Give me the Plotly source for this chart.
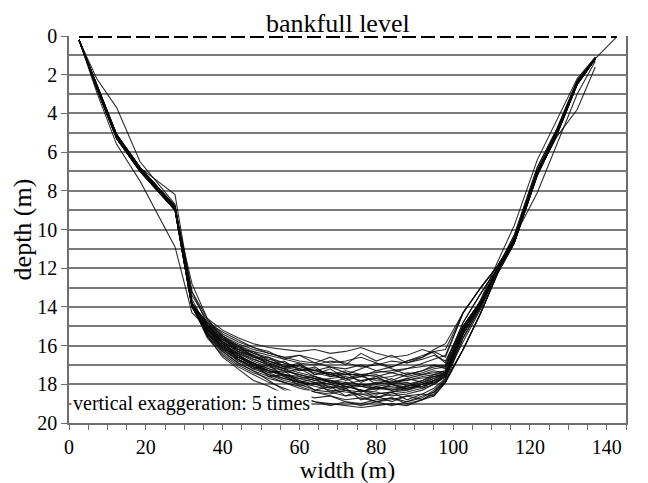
import plotly.graph_objects as go

# Cross-section stations (m across the channel)
station_x = [2.6, 7.2, 12.4, 18.5, 27.6, 32.0, 36, 40, 44, 48, 52, 56, 60, 64, 68, 72,
             76, 80, 84, 88, 92, 95, 98, 102.6, 107.2, 111.5, 115.9, 121.9, 127.0,
             132.3, 137.0, 142.6]

# Left-bank depths (stations 2.6 .. 32)
left_main = [0.2, 2.6, 5.2, 6.9, 8.9, 13.9]
left_a = [0.2, 2.5, 5.1, 6.8, 8.8, 13.8]
left_b = [0.2, 2.7, 5.3, 7.0, 9.0, 14.0]
left_bulge = [0.2, 2.2, 3.7, 6.5, 8.7, 13.6]
left_kink = [0.2, 2.6, 5.1, 6.8, 8.2, 13.4]
left_deep = [0.2, 2.9, 5.6, 7.5, 10.9, 14.3]
left_toe = [0.2, 2.6, 5.2, 6.9, 9.0, 12.8]
left_g = [0.2, 2.6, 5.2, 6.9, 8.9, 13.2]

# Bed depths (stations 36 .. 98)
bed_01 = [15.1, 15.9, 16.4, 16.8, 17.1, 17.3, 17.5, 17.7, 17.8, 17.9, 18.0, 18.0, 17.9, 17.8, 17.7, 17.6, 17.5]
bed_02 = [15.3, 16.1, 16.6, 17.0, 17.3, 17.6, 17.9, 18.1, 18.3, 18.4, 18.5, 18.5, 18.4, 18.3, 18.1, 17.9, 17.6]
bed_03 = [14.9, 15.7, 16.2, 16.5, 16.8, 17.0, 17.2, 17.3, 17.4, 17.5, 17.5, 17.4, 17.3, 17.2, 17.1, 17.0, 17.2]
bed_04 = [15.0, 15.8, 16.3, 16.6, 16.9, 17.2, 17.4, 17.6, 17.8, 18.0, 18.1, 18.2, 18.2, 18.1, 18.0, 17.8, 17.5]
bed_05 = [15.4, 16.3, 16.9, 17.3, 17.8, 18.3, 18.7, 18.9, 19.0, 19.1, 19.2, 19.1, 19.0, 19.1, 18.8, 18.5, 17.8]
bed_06 = [14.6, 15.2, 15.6, 15.9, 16.1, 16.2, 16.3, 16.2, 16.4, 16.3, 16.1, 16.4, 16.6, 16.5, 16.2, 16.4, 16.9]
bed_07 = [15.2, 16.0, 16.5, 16.9, 17.2, 17.4, 17.2, 17.6, 17.9, 17.7, 18.1, 18.3, 18.0, 17.9, 18.2, 17.8, 17.5]
bed_08 = [15.0, 15.7, 16.1, 16.4, 16.6, 16.9, 17.1, 17.3, 17.1, 17.4, 17.6, 17.3, 17.1, 16.8, 16.6, 16.2, 15.9]
bed_09 = [15.5, 16.4, 17.0, 17.4, 17.7, 17.9, 18.2, 18.4, 18.6, 18.8, 18.7, 18.9, 18.8, 18.6, 18.5, 18.2, 17.7]
bed_10 = [15.1, 15.8, 16.2, 16.6, 16.8, 17.1, 17.3, 17.2, 17.5, 17.7, 17.6, 17.8, 17.9, 17.7, 17.5, 17.4, 17.3]
bed_11 = [14.8, 15.5, 16.0, 16.3, 16.5, 16.7, 16.9, 17.0, 16.8, 16.9, 17.1, 17.0, 16.8, 16.9, 16.7, 16.5, 16.8]
bed_12 = [15.3, 16.2, 16.8, 17.2, 17.5, 17.7, 17.9, 18.0, 18.2, 18.1, 18.3, 18.4, 18.6, 18.5, 18.3, 18.0, 17.6]
bed_13 = [15.2, 15.9, 16.5, 16.9, 17.3, 17.5, 17.7, 17.9, 18.0, 18.2, 18.1, 17.9, 18.0, 18.2, 18.0, 17.7, 17.4]
bed_14 = [14.7, 15.4, 15.8, 16.1, 16.4, 16.6, 16.8, 16.9, 17.1, 17.2, 17.0, 17.3, 17.4, 17.2, 16.9, 16.7, 16.5]
bed_15 = [15.6, 16.5, 17.1, 17.5, 17.9, 18.2, 18.5, 18.7, 18.6, 18.9, 19.0, 18.8, 18.7, 18.9, 18.7, 18.3, 17.8]
bed_16 = [15.0, 15.9, 16.4, 16.7, 17.0, 17.2, 17.6, 17.8, 17.7, 17.6, 17.8, 17.7, 17.6, 17.4, 17.5, 17.3, 17.4]
bed_17 = [15.2, 16.0, 16.6, 17.0, 17.3, 17.5, 17.8, 18.0, 18.1, 18.3, 18.4, 18.2, 18.3, 18.1, 17.9, 17.7, 17.5]
bed_18 = [14.6, 15.6, 16.1, 16.5, 16.9, 17.2, 17.0, 17.3, 17.5, 17.3, 17.5, 17.6, 17.4, 17.6, 17.4, 17.2, 17.1]
bed_19 = [15.4, 16.2, 16.7, 17.1, 17.5, 17.8, 18.0, 18.3, 18.4, 18.6, 18.5, 18.7, 18.5, 18.4, 18.2, 18.0, 17.6]
bed_20 = [14.8, 15.5, 15.9, 16.2, 16.4, 16.6, 16.5, 16.7, 16.9, 16.8, 16.6, 16.9, 17.1, 16.8, 16.5, 16.3, 16.2]
bed_21 = [15.1, 15.9, 16.5, 17.0, 17.4, 17.7, 17.9, 18.0, 17.8, 18.1, 18.3, 18.5, 18.4, 18.2, 18.1, 17.9, 17.6]
bed_22 = [15.3, 16.1, 16.7, 17.1, 17.3, 17.5, 17.7, 17.6, 17.9, 18.1, 18.0, 18.2, 18.1, 18.0, 17.8, 17.6, 17.4]
bed_23 = [15.0, 15.8, 16.3, 16.7, 17.0, 17.3, 17.5, 17.7, 17.9, 18.0, 17.8, 17.7, 17.9, 17.8, 17.6, 17.5, 17.4]
bed_24 = [15.5, 16.3, 16.9, 17.3, 17.6, 17.9, 18.1, 18.4, 18.5, 18.3, 18.6, 18.9, 19.1, 18.9, 18.6, 18.4, 17.9]
bed_25 = [14.9, 15.6, 16.0, 16.4, 16.7, 16.9, 17.2, 17.4, 17.6, 17.5, 17.2, 16.9, 17.2, 17.5, 17.3, 17.1, 17.0]
bed_26 = [15.2, 16.0, 16.6, 16.9, 17.2, 17.5, 17.6, 17.8, 18.0, 18.2, 18.0, 18.1, 18.3, 18.2, 18.0, 17.8, 17.5]
bed_27 = [15.0, 15.6, 16.3, 16.5, 17.0, 16.8, 17.3, 17.1, 17.6, 17.4, 17.9, 17.6, 18.0, 17.7, 17.9, 17.6, 17.5]
bed_28 = [15.4, 16.0, 16.8, 16.9, 17.6, 17.5, 18.1, 17.9, 18.4, 18.2, 18.8, 18.6, 18.9, 18.6, 18.8, 18.4, 17.7]
bed_29 = [14.8, 15.3, 15.7, 16.1, 16.3, 16.7, 16.5, 16.9, 16.6, 17.0, 16.4, 16.8, 16.5, 16.9, 16.6, 16.3, 16.6]
bed_30 = [15.2, 15.8, 16.7, 17.2, 17.0, 17.6, 17.8, 18.3, 18.1, 18.6, 18.3, 18.7, 18.4, 18.8, 18.5, 18.6, 17.9]
bed_31 = [15.1, 16.2, 16.4, 17.1, 17.4, 17.3, 17.9, 17.7, 18.2, 17.9, 18.4, 18.1, 18.0, 18.3, 18.0, 17.9, 17.5]
bed_32 = [14.9, 15.5, 16.2, 16.3, 16.8, 17.1, 16.9, 17.5, 17.4, 17.8, 17.6, 17.5, 17.8, 17.5, 17.3, 17.0, 17.1]
bed_33 = [15.5, 16.6, 17.2, 17.8, 18.1, 18.5, 18.6, 18.9, 19.1, 18.9, 19.1, 18.9, 18.7, 19.0, 18.8, 18.6, 17.9]
bed_34 = [15.0, 15.7, 16.0, 16.6, 16.6, 17.1, 17.0, 17.5, 17.2, 17.7, 17.5, 18.0, 17.7, 18.1, 17.8, 17.5, 17.3]

# Right-bank depths (stations 102.6 .. 137)
right_main = [15.2, 13.8, 12.1, 10.6, 7.1, 5.0, 2.45, 1.17]
right_a = [15.0, 13.7, 12.0, 10.5, 7.0, 4.9, 2.4, 1.15]
right_b = [15.4, 13.9, 12.2, 10.7, 7.2, 5.1, 2.5, 1.2]
right_early = [14.3, 13.0, 11.9, 10.5, 7.0, 5.0, 2.45, 1.17]
right_low = [16.2, 14.3, 12.3, 10.7, 7.1, 5.0, 2.45, 1.17]
right_e = [15.8, 14.1, 12.2, 10.4, 8.1, 5.6, 3.0, 1.3]
right_f = [15.3, 13.6, 11.7, 9.8, 6.4, 4.3, 2.2, 1.1]
right_g = [15.1, 13.8, 12.1, 10.6, 7.1, 5.2, 3.8, 1.6]
right_h = [14.8, 13.3, 12.0, 10.3, 6.8, 4.8, 2.3, 1.1]
right_i = [15.6, 14.0, 12.1, 10.6, 7.1, 5.0, 2.45, 1.17]

# Outermost station depth (only surveyed for one profile)
end_surveyed = [0.05]
end_missing = [None]

profiles = [
    left_main + bed_01 + right_main + end_surveyed,
    left_b + bed_02 + right_b + end_missing,
    left_a + bed_03 + right_a + end_missing,
    left_main + bed_04 + right_main + end_missing,
    left_b + bed_05 + right_low + end_missing,
    left_g + bed_06 + right_h + end_missing,
    left_main + bed_07 + right_main + end_missing,
    left_a + bed_08 + right_early + end_missing,
    left_main + bed_09 + right_b + end_missing,
    left_bulge + bed_10 + right_main + end_missing,
    left_main + bed_11 + right_a + end_missing,
    left_b + bed_12 + right_e + end_missing,
    left_main + bed_13 + right_main + end_missing,
    left_kink + bed_14 + right_early + end_missing,
    left_main + bed_15 + right_low + end_missing,
    left_a + bed_16 + right_f + end_missing,
    left_main + bed_17 + right_main + end_missing,
    left_toe + bed_18 + right_a + end_missing,
    left_b + bed_19 + right_g + end_missing,
    left_main + bed_20 + right_early + end_missing,
    left_deep + bed_21 + right_b + end_missing,
    left_main + bed_22 + right_main + end_missing,
    left_a + bed_23 + right_a + end_missing,
    left_main + bed_24 + right_low + end_missing,
    left_g + bed_25 + right_h + end_missing,
    left_main + bed_26 + right_main + end_missing,
    left_main + bed_27 + right_main + end_missing,
    left_a + bed_28 + right_i + end_missing,
    left_main + bed_29 + right_early + end_missing,
    left_b + bed_30 + right_i + end_missing,
    left_main + bed_31 + right_b + end_missing,
    left_a + bed_32 + right_a + end_missing,
    left_main + bed_33 + right_low + end_missing,
    left_main + bed_34 + right_main + end_missing,
]

bankfull_depth = 0
x_ticks = [0, 20, 40, 60, 80, 100, 120, 140]
y_ticks = [0, 2, 4, 6, 8, 10, 12, 14, 16, 18, 20]

fig = go.Figure()
for depths in profiles:
    fig.add_trace(go.Scatter(
        x=station_x, y=depths, mode="lines",
        line=dict(color="rgba(10,10,10,0.85)", width=1.1),
        showlegend=False, hoverinfo="skip"))

fig.add_trace(go.Scatter(
    x=[station_x[0], station_x[-1]], y=[bankfull_depth, bankfull_depth],
    mode="lines", line=dict(color="black", width=4, dash="14px,5px"),
    showlegend=False, hoverinfo="skip"))

axis_grey = "#6e6e6e"
# The page body adds an 8 px offset, so the figure is 8 px smaller than the window
fig.update_layout(
    width=640, height=475,
    margin=dict(l=61, r=22, t=28, b=60),
    paper_bgcolor="white", plot_bgcolor="white",
    font=dict(family="Liberation Serif", color="black", size=20),
    showlegend=False,
    annotations=[
        dict(text="bankfull level", x=69.9, y=bankfull_depth, xref="x", yref="y",
             xanchor="center", yanchor="bottom", yshift=-4, showarrow=False,
             font=dict(size=26, family="Liberation Serif", color="black")),
        dict(text="vertical exaggeration: 5 times", x=32, y=19, xref="x", yref="y",
             xanchor="center", yanchor="middle", showarrow=False,
             bgcolor="white", borderpad=1,
             font=dict(size=20, family="Liberation Serif", color="black")),
    ],
)
fig.update_xaxes(
    range=[0, 145], tickvals=x_ticks, ticks="outside", ticklen=5,
    tickcolor=axis_grey, tickwidth=1, showline=True, linecolor=axis_grey,
    linewidth=1.5, showgrid=False, zeroline=False, automargin=False,
    tickfont=dict(size=20),
    minor=dict(dtick=5, ticks="outside", ticklen=5, tickcolor=axis_grey, showgrid=False),
    title=dict(text="width (m)", font=dict(size=24), standoff=9),
)
fig.update_yaxes(
    range=[20, 0], tickvals=y_ticks, ticks="outside", ticklen=6,
    tickcolor=axis_grey, showline=True, mirror=True, linecolor=axis_grey,
    linewidth=1.5, showgrid=True, gridcolor="#7a7a7a", gridwidth=1.5,
    minor=dict(dtick=1, showgrid=True, gridcolor="#7a7a7a", gridwidth=1.5),
    zeroline=False, automargin=False, tickfont=dict(size=20),
    title=dict(text="depth (m)", font=dict(size=26), standoff=0),
)

fig.write_html("out.html")
